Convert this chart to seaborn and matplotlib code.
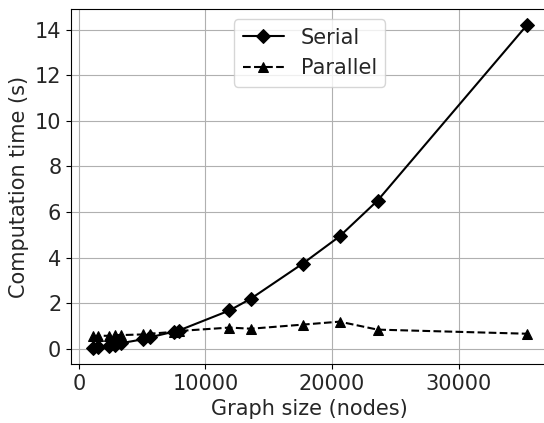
import pandas as pd
import matplotlib
matplotlib.use("Agg")
import matplotlib.pyplot as plt
import seaborn as sns

# Values
graph_size = [1100, 1500, 2400, 2900, 3300, 5100, 5600, 7500, 7900,
              11900, 13600, 17700, 20600, 23600, 35400]
serial_time = [0.04, 0.06, 0.14, 0.18, 0.24, 0.42, 0.5, 0.75, 0.8,
               1.68, 2.2, 3.74, 4.93, 6.5, 14.2]
parallel_time = [0.55, 0.57, 0.57, 0.6, 0.6, 0.63, 0.66, 0.74, 0.78,
                 0.93, 0.88, 1.06, 1.19, 0.84, 0.66]

df = pd.DataFrame({'Graph size': graph_size,
                   'Serial': serial_time,
                   'Parallel': parallel_time})

sns.set_style("ticks")
plt.rcParams['font.family'] = ['DejaVu Sans']

fig = plt.figure(figsize=(5.44, 4.23), dpi=100)
# the original image is cropped right through the right-hand spine
ax = fig.add_axes([0.1305, 0.1395, 0.878, 0.8392])

sns.lineplot(data=df, x='Graph size', y='Serial', ax=ax, color='black',
             marker='D', markersize=7, linestyle='-', linewidth=1.5,
             markeredgecolor='black', label='Serial')
sns.lineplot(data=df, x='Graph size', y='Parallel', ax=ax, color='black',
             marker='^', markersize=7, linestyle='--', linewidth=1.5,
             markeredgecolor='black', label='Parallel')

ax.grid(True, color='#b0b0b0', linewidth=0.8)
ax.set_axisbelow(True)
for s in ax.spines.values():
    s.set_color('black')
    s.set_linewidth(0.8)
ax.spines['right'].set_visible(False)

ax.set_xlabel('Graph size (nodes)', fontsize=15)
ax.set_ylabel('Computation time (s)', fontsize=15)
ax.tick_params(labelsize=15, length=3.5, width=0.8, color='black')
ax.set_xticks([0, 10000, 20000, 30000])
ax.set_yticks([0, 2, 4, 6, 8, 10, 12, 14])

ax.legend(loc='upper center', fontsize=15, frameon=True, framealpha=0.8,
          edgecolor='#cccccc', handlelength=2.0)

fig.savefig('out.png', dpi=100)
